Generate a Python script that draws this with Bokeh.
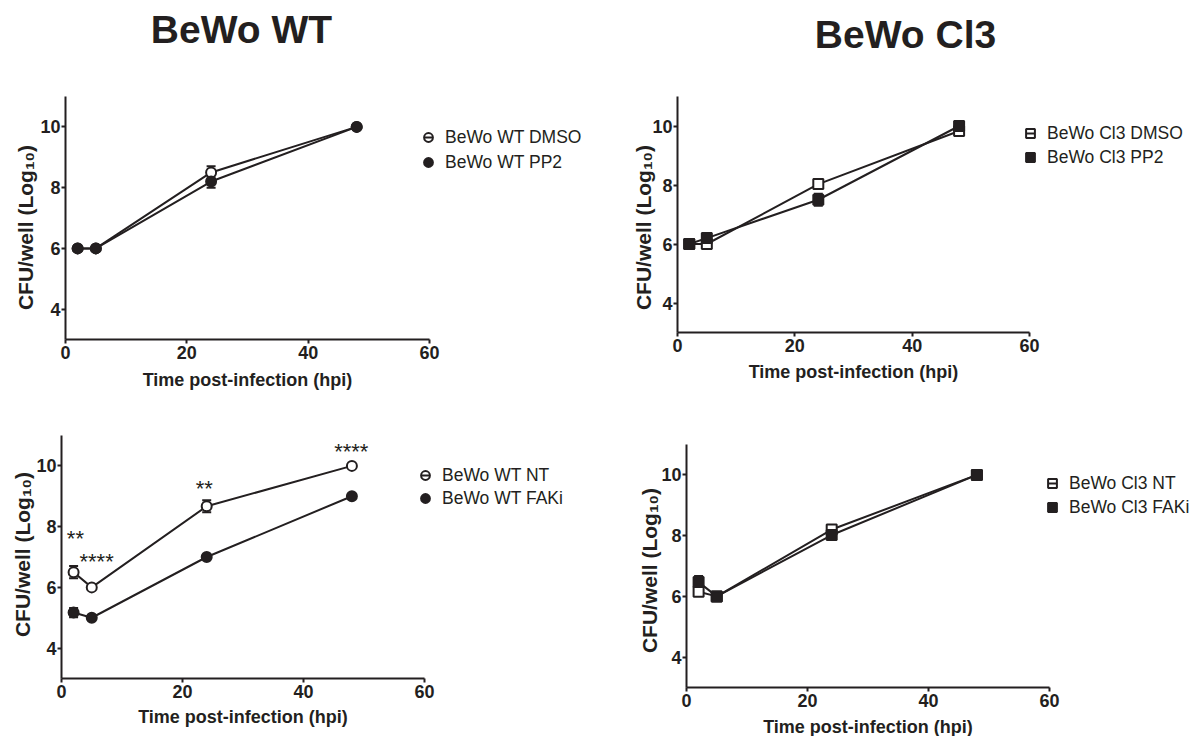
from bokeh.plotting import figure
from bokeh.models import (Range1d, Legend, LegendItem, Label, Whisker,
                          ColumnDataSource, TeeHead, FixedTicker)
from bokeh.layouts import row, column
from bokeh.embed import file_html
from bokeh.resources import INLINE
from bokeh.core.properties import value

# ---------------- data ----------------
hpi = [2, 5, 24, 48]

wt_dmso = [6.0, 6.0, 8.5, 10.0]
wt_dmso_err = [0.0, 0.0, 0.2, 0.0]
wt_pp2 = [6.0, 6.0, 8.2, 10.0]
wt_pp2_err = [0.0, 0.0, 0.2, 0.0]

cl3_dmso = [6.0, 6.0, 8.03, 9.83]
cl3_dmso_err = [0.0, 0.0, 0.0, 0.0]
cl3_pp2 = [6.0, 6.2, 7.5, 10.0]
cl3_pp2_err = [0.0, 0.0, 0.2, 0.0]

wt_nt = [6.5, 6.0, 8.67, 10.0]
wt_nt_err = [0.2, 0.0, 0.2, 0.0]
wt_faki = [5.17, 5.0, 7.0, 9.0]
wt_faki_err = [0.15, 0.0, 0.0, 0.0]

cl3_nt = [6.15, 6.0, 8.2, 10.0]
cl3_nt_err = [0.0, 0.0, 0.0, 0.0]
cl3_faki = [6.47, 6.0, 8.02, 10.0]
cl3_faki_err = [0.2, 0.0, 0.0, 0.0]

sig_x = [2.3, 5.8, 23.6, 47.9]
sig_y = [7.65, 6.9, 9.3, 10.5]
sig_text = ["**", "****", "**", "****"]

x_ticks = [0, 20, 40, 60]
y_ticks = [4, 6, 8, 10]
x_lim = (0, 60)
y_lim = (3, 11)

x_title = "Time post-infection (hpi)"
y_title = "CFU/well (Log\u2081\u2080)"

INK = "#231f20"
FONT = "Liberation Sans"


def make_panel(axis_box, cell, series, legend_pos, ylab_pos, xlab_off,
               title=None, annotations=None):
    """axis_box: page pixels of the axes (L, R, T, B); cell: (x0, y0, x1, y1).
    The frame fills the whole cell; the axes are pinned at the data limits."""
    L, R, T, B = axis_box
    fx0, fy0, fx1, fy1 = cell
    sx = (R - L) / (x_lim[1] - x_lim[0])
    sy = (B - T) / (y_lim[1] - y_lim[0])
    xr = Range1d(x_lim[0] - (L - fx0) / sx, x_lim[0] + (fx1 - L) / sx)
    yr = Range1d(y_lim[0] - (fy1 - B) / sy, y_lim[0] + (B - fy0) / sy)
    p = figure(frame_width=fx1 - fx0, frame_height=fy1 - fy0,
               min_border=0, x_range=xr, y_range=yr,
               output_backend="svg", toolbar_location=None, title=None)
    p.outline_line_color = None
    p.xgrid.visible = False
    p.ygrid.visible = False
    p.background_fill_color = "white"
    p.border_fill_color = "white"

    p.xaxis.ticker = FixedTicker(ticks=x_ticks)
    p.yaxis.ticker = FixedTicker(ticks=y_ticks)
    p.xaxis.bounds = x_lim
    p.yaxis.bounds = y_lim
    p.xaxis.fixed_location = y_lim[0]
    p.yaxis.fixed_location = x_lim[0]
    for ax in (p.xaxis[0], p.yaxis[0]):
        ax.axis_line_width = 2
        ax.axis_line_color = INK
        ax.major_tick_line_width = 2
        ax.major_tick_line_color = INK
        ax.major_tick_out = 4
        ax.major_tick_in = 0
        ax.minor_tick_line_color = None
        ax.major_label_text_font = FONT
        ax.major_label_text_font_style = "bold"
        ax.major_label_text_font_size = "18px"
        ax.major_label_text_color = INK
    p.xaxis.major_label_standoff = 2
    p.yaxis.major_label_standoff = 1

    # axis titles, placed along the bounded axes
    shift_x = 0.35 * 18
    shift_y = 0.35 * 21
    p.add_layout(Label(x=(L + R) / 2 - fx0, y=fy1 - (B + xlab_off - shift_x),
                       x_units="screen", y_units="screen", text=x_title,
                       text_font=FONT, text_font_style="bold", text_font_size="18px",
                       text_color=INK, text_align="center", text_baseline="alphabetic"))
    yl_dx, yl_cy = ylab_pos
    p.add_layout(Label(x=L - yl_dx - shift_y - fx0, y=fy1 - yl_cy,
                       x_units="screen", y_units="screen", text=y_title,
                       angle=90, angle_units="deg",
                       text_font=FONT, text_font_style="bold", text_font_size="21px",
                       text_color=INK, text_align="center", text_baseline="alphabetic"))

    built = []
    for (yv, err, marker, filled, label) in series:
        src = ColumnDataSource(dict(x=hpi, y=yv))
        p.line("x", "y", source=src, line_width=2, line_color=INK)
        built.append((src, yv, err, marker, filled, label))
    legend_items = []
    for (src, yv, err, marker, filled, label) in built:
        ex = [x for x, e in zip(hpi, err) if e > 0]
        lo = [y - e for y, e in zip(yv, err) if e > 0]
        hi = [y + e for y, e in zip(yv, err) if e > 0]
        if ex:
            esrc = ColumnDataSource(dict(x=ex, lo=lo, hi=hi))
            p.add_layout(Whisker(source=esrc, base="x", lower="lo", upper="hi",
                                 line_width=2, line_color=INK,
                                 upper_head=TeeHead(size=9, line_width=2, line_color=INK),
                                 lower_head=TeeHead(size=9, line_width=2, line_color=INK)))
        # the connecting-line stroke shown through the legend symbol; in the
        # plot it sits hidden underneath each marker
        dash = p.scatter("x", "y", source=src, marker="dash", size=9,
                         line_width=2, line_color=INK)
        sc = p.scatter("x", "y", source=src, marker=marker, size=10,
                       line_width=2, line_color=INK,
                       fill_color=INK if filled else "white")
        legend_items.append(LegendItem(label=label, renderers=[sc, dash]))

    lx, ly, pitch = legend_pos
    gh = 22
    spacing = pitch - gh
    n = len(legend_items)
    leg_h = n * gh + (n - 1) * spacing
    legend = Legend(items=legend_items,
                    location=(lx - 11 - fx0, fy1 - (ly - gh // 2 + leg_h)),
                    glyph_width=22, glyph_height=gh, label_standoff=6,
                    spacing=spacing, padding=0, margin=0,
                    border_line_color=None, background_fill_alpha=0,
                    label_text_font=FONT, label_text_font_size="17.5px",
                    label_text_color=INK, label_height=gh)
    p.add_layout(legend)

    if title is not None:
        text, cx, base = title
        p.add_layout(Label(x=cx - fx0, y=fy1 - (base - 0.35 * 39),
                           x_units="screen", y_units="screen",
                           text=text, text_font=FONT, text_font_style="bold",
                           text_font_size="39px", text_color=INK,
                           text_align="center", text_baseline="alphabetic"))

    if annotations is not None:
        ax_, ay_, at_ = annotations
        p.text(x=ax_, y=ay_, text=at_, text_font=value(FONT),
               text_font_size=value("22px"), text_color=INK,
               text_align="center", text_baseline="alphabetic", y_offset=1)
    return p


W_SPLIT, H_SPLIT, W_END, H_END = 600, 392, 1190, 736

p1 = make_panel((65, 429, 96, 339), (0, 0, W_SPLIT, H_SPLIT),
                [(wt_dmso, wt_dmso_err, "circle", False, "BeWo WT DMSO"),
                 (wt_pp2, wt_pp2_err, "circle", True, "BeWo WT PP2")],
                (428, 137, 25), (33, 227), 47, title=("BeWo WT", 241, 43))
p2 = make_panel((677, 1029, 96, 332), (W_SPLIT, 0, W_END, H_SPLIT),
                [(cl3_dmso, cl3_dmso_err, "square", False, "BeWo Cl3 DMSO"),
                 (cl3_pp2, cl3_pp2_err, "square", True, "BeWo Cl3 PP2")],
                (1030, 133, 24), (27, 227), 46, title=("BeWo Cl3", 905, 48))
p3 = make_panel((61, 424, 435, 678), (0, H_SPLIT, W_SPLIT, H_END),
                [(wt_nt, wt_nt_err, "circle", False, "BeWo WT NT"),
                 (wt_faki, wt_faki_err, "circle", True, "BeWo WT FAKi")],
                (425, 475, 23), (32, 554), 45, annotations=(sig_x, sig_y, sig_text))
p4 = make_panel((686, 1049, 444, 687), (W_SPLIT, H_SPLIT, W_END, H_END),
                [(cl3_nt, cl3_nt_err, "square", False, "BeWo Cl3 NT"),
                 (cl3_faki, cl3_faki_err, "square", True, "BeWo Cl3 FAKi")],
                (1052, 483, 24), (30, 570), 46)

layout = column(row(p1, p2, spacing=0), row(p3, p4, spacing=0), spacing=0)

with open("out.html", "w") as f:
    f.write(file_html(layout, INLINE, title="BeWo CFU"))
